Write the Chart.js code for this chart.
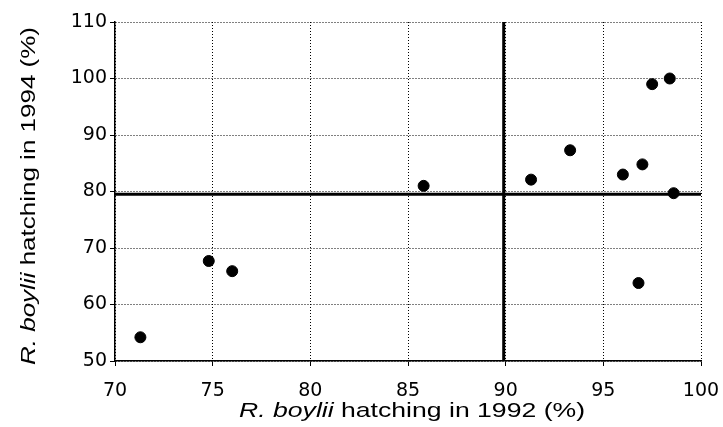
<!DOCTYPE html>
<html>
<head>
<meta charset="utf-8">
<script src="https://cdn.jsdelivr.net/npm/chart.js@4/dist/chart.umd.min.js"></script>
<style>
html,body{margin:0;padding:0;background:#fff}
#wrap{width:723px;height:427px}
</style>
</head>
<body>
<div id="wrap"><canvas id="grafico" width="723" height="427"></canvas></div>
<script>

/* datos */
const hatching1992 = [71.3, 74.8, 76.0, 85.8, 91.3, 93.3, 96.0, 97.0, 97.5, 98.4, 98.6, 96.8]
const hatching1994 = [54.2, 67.7, 65.9, 81.0, 82.1, 87.3, 83.0, 84.8, 99.0, 100.0, 79.7, 63.8]

const xTicks = [70, 75, 80, 85, 90, 95, 100]
const yTicks = [50, 60, 70, 80, 90, 100, 110]

const corteX = 89.9
const corteY = 79.5

const tituloX = ["R. boylii", " hatching in 1992 (%)"]
const tituloY = ["R. boylii", " hatching in 1994 (%)"]

const fuente = "'Liberation Sans', Arial, Helvetica, sans-serif"
const fuenteTicks = "'DejaVu Sans', 'Liberation Sans', sans-serif"


let puntos = hatching1992.map((x, i) => ({x: x, y: hatching1994[i]}))


/* =========================
TITULOS CON CURSIVA
(la figura original esta estirada, se escala el texto a lo largo)
========================= */

function textoMixto(ctx, partes, size, largo){
ctx.font = "italic " + size + "px " + fuente
let w1 = ctx.measureText(partes[0]).width
ctx.font = size + "px " + fuente
let w2 = ctx.measureText(partes[1]).width
let total = w1 + w2
ctx.scale(largo/total, 1)
ctx.textBaseline = "middle"
ctx.textAlign = "left"
ctx.font = "italic " + size + "px " + fuente
ctx.fillText(partes[0], -total/2, 0)
ctx.font = size + "px " + fuente
ctx.fillText(partes[1], -total/2 + w1, 0)
}

const titulos = {
id: "titulos",
afterDraw(chart){
let ctx = chart.ctx
ctx.save()
ctx.fillStyle = "#000"
ctx.translate(412, 411)
textoMixto(ctx, tituloX, 21, 346)
ctx.restore()

ctx.save()
ctx.fillStyle = "#000"
ctx.translate(29, 196)
ctx.rotate(-Math.PI/2)
textoMixto(ctx, tituloY, 21, 338)
ctx.restore()
}
}


new Chart(document.getElementById("grafico"), {

type: "scatter",

data: {
datasets: [
{
type: "line",
data: [{x: corteX, y: 50}, {x: corteX, y: 110}],
borderColor: "#000",
borderWidth: 3,
pointRadius: 0
},
{
type: "line",
data: [{x: 70, y: corteY}, {x: 100, y: corteY}],
borderColor: "#000",
borderWidth: 3,
pointRadius: 0
},
{
data: puntos,
backgroundColor: "#000",
borderColor: "#000",
pointRadius: 5.5,
pointHoverRadius: 5.5
}
]
},

options: {
responsive: false,
animation: false,
layout: {padding: {left: 0, right: 22, top: 22, bottom: 0}},
plugins: {
legend: {display: false},
tooltip: {enabled: false}
},
scales: {
x: {
type: "linear",
min: 70,
max: 100,
afterBuildTicks: s => { s.ticks = xTicks.map(v => ({value: v})) },
afterFit: s => { s.height = 66; s.paddingRight = 0 },
grid: {
color: "#000",
lineWidth: 1,
tickLength: 5,
tickColor: "#000",
tickBorderDash: [],
drawOnChartArea: true
},
border: {display: true, color: "#000", width: 1.5, dash: [1, 2]},
ticks: {
color: "#000",
padding: 14,
maxRotation: 0,
font: {family: fuenteTicks, size: 19}
}
},
y: {
type: "linear",
min: 50,
max: 110,
afterBuildTicks: s => { s.ticks = yTicks.map(v => ({value: v})) },
afterFit: s => { s.width = 115 },
grid: {
color: "#000",
lineWidth: 1,
tickLength: 5,
tickColor: "#000",
tickBorderDash: []
},
border: {display: true, color: "#000", width: 1.5, dash: [1, 2]},
ticks: {
color: "#000",
padding: 3,
font: {family: fuenteTicks, size: 19}
}
}
}
},

plugins: [titulos]

})

</script>
</body>
</html>
